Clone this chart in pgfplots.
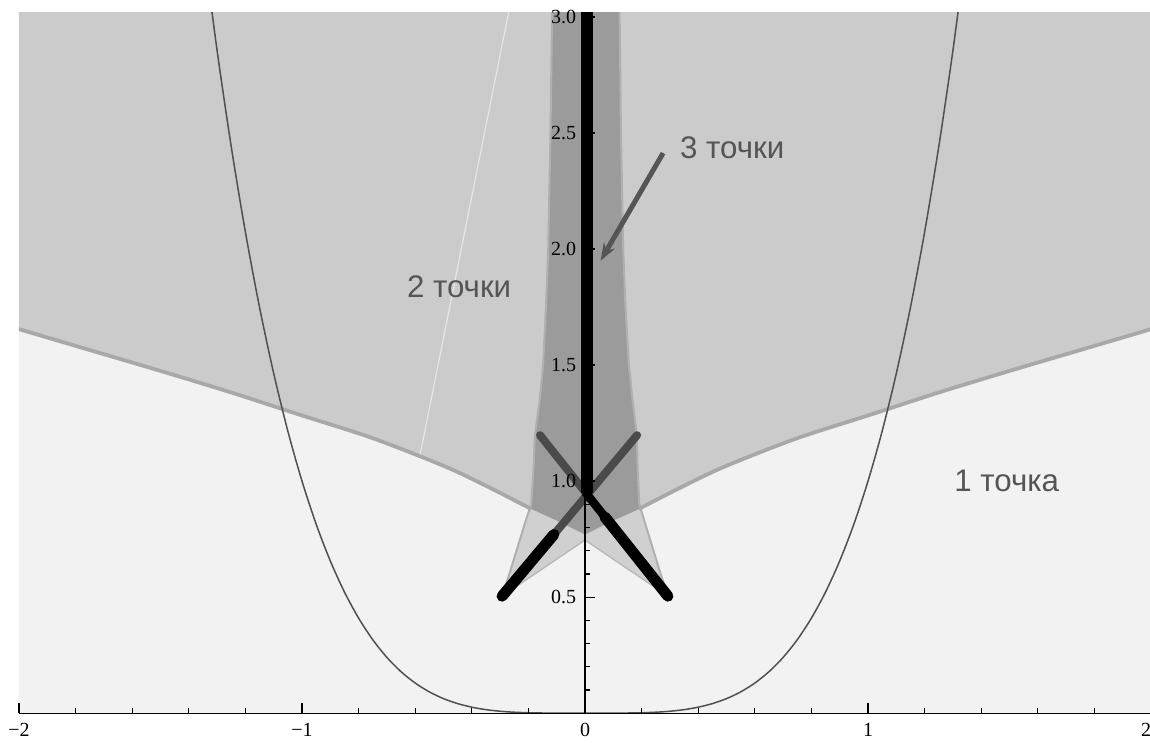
\documentclass[border=0pt]{standalone}
\usepackage{fontspec}
\setmainfont{Liberation Serif}
\newfontfamily\labelfont{Liberation Sans}
\usepackage{pgfplots}
\pgfplotsset{compat=1.18}
\usetikzlibrary{arrows.meta}

\definecolor{bgcol}{HTML}{F2F2F2}
\definecolor{twocol}{HTML}{CBCBCB}
\definecolor{threecol}{HTML}{9B9B9B}
\definecolor{tentcol}{HTML}{D0D0D0}
\definecolor{edgecol}{HTML}{B0B0B0}
\definecolor{bndcol}{HTML}{A8A8A8}
\definecolor{curvecol}{HTML}{505050}
\definecolor{strokecol}{HTML}{4A4A4A}
\definecolor{textcol}{HTML}{555555}

\begin{document}
\begin{tikzpicture}
\begin{axis}[
  x=113.2pt, y=92.8pt,
  xmin=-2, xmax=2, ymin=0, ymax=3.02,
  axis lines=middle,
  axis line style={-, line width=0.5pt, black},
  axis on top,
  axis background/.style={fill=bgcol},
  xtick={-2,-1,0,1,2},
  xticklabels={−2,−1,0,1,\makebox[0pt][r]{2}},
  ytick={0,0.5,1,1.5,2,2.5,3},
  yticklabels={,0.5,1.0,1.5,2.0,2.5,3.0},
  minor xtick={-1.8,-1.6,-1.4,-1.2,-0.8,-0.6,-0.4,-0.2,0.2,0.4,0.6,0.8,1.2,1.4,1.6,1.8},
  minor ytick={0.1,0.2,0.3,0.4,0.6,0.7,0.8,0.9,1.1,1.2,1.3,1.4,1.6,1.7,1.8,1.9,2.1,2.2,2.3,2.4,2.6,2.7,2.8,2.9},
  hide obscured x ticks=false, hide obscured y ticks=false,
  tick align=inside,
  major tick length=4pt, minor tick length=2pt,
  tick style={black, line width=0.5pt},
  tick label style={font=\fontsize{8}{9}\selectfont, black},
  xticklabel style={yshift=-0.6pt},
]
% region with two points: above the boundary curve
\addplot[draw=none, fill=twocol] coordinates {
  (-2,3.1) (-2,1.655) (-1.75,1.565) (-1.5,1.475) (-1.25,1.382) (-1.0,1.283)
  (-0.75,1.185) (-0.5,1.066) (-0.35,0.980) (-0.19,0.880) (-0.1,0.830) (0,0.770)
  (0.1,0.830) (0.19,0.880) (0.35,0.980) (0.5,1.066) (0.75,1.185) (1.0,1.283)
  (1.25,1.382) (1.5,1.475) (1.75,1.565) (2,1.655) (2,3.1)} -- cycle;
% faint light seam
\addplot[white, opacity=0.5, line width=0.5pt] coordinates {(-0.583,1.112) (-0.265,3.05)};
% tent
\addplot[draw=none, fill=tentcol] coordinates {
  (-0.293,0.504) (-0.262,0.62) (-0.237,0.72) (-0.212,0.82) (-0.190,0.90)
  (-0.182,1.05) (-0.177,1.20) (-0.160,1.35) (-0.148,1.50) (-0.138,1.75)
  (-0.130,2.00) (-0.122,2.50) (-0.116,3.05) (0.122,3.05) (0.127,2.50)
  (0.135,2.00) (0.143,1.75) (0.155,1.50) (0.168,1.35) (0.183,1.20)
  (0.186,1.05) (0.192,0.90) (0.212,0.82) (0.237,0.72) (0.262,0.62)
  (0.293,0.504) (0,0.746)} -- cycle;
% region with three points
\addplot[draw=none, fill=threecol] coordinates {
  (-0.190,0.880) (-0.190,0.90) (-0.182,1.05) (-0.177,1.20) (-0.160,1.35)
  (-0.148,1.50) (-0.138,1.75) (-0.130,2.00) (-0.122,2.50) (-0.116,3.05)
  (0.122,3.05) (0.127,2.50) (0.135,2.00) (0.143,1.75) (0.155,1.50)
  (0.168,1.35) (0.183,1.20) (0.186,1.05) (0.192,0.90) (0.192,0.880)
  (0.1,0.830) (0,0.770) (-0.1,0.830)} -- cycle;
% tent edges
\addplot[edgecol, line width=0.8pt] coordinates {
  (-0.293,0.504) (-0.262,0.62) (-0.237,0.72) (-0.212,0.82) (-0.190,0.90)
  (-0.182,1.05) (-0.177,1.20) (-0.160,1.35) (-0.148,1.50) (-0.138,1.75)
  (-0.130,2.00) (-0.122,2.50) (-0.116,3.05)};
\addplot[edgecol, line width=0.8pt] coordinates {
  (0.293,0.504) (0.262,0.62) (0.237,0.72) (0.212,0.82) (0.192,0.90)
  (0.186,1.05) (0.183,1.20) (0.168,1.35) (0.155,1.50) (0.143,1.75)
  (0.135,2.00) (0.127,2.50) (0.122,3.05)};
\addplot[edgecol!80!tentcol, line width=0.5pt] coordinates {(-0.293,0.504) (0,0.746) (0.293,0.504)};
% boundary curve
\addplot[bndcol, line width=1.5pt, smooth] coordinates {
  (-2,1.655) (-1.75,1.565) (-1.5,1.475) (-1.25,1.382) (-1.0,1.283)
  (-0.75,1.185) (-0.5,1.066) (-0.35,0.980) (-0.19,0.880)};
\addplot[bndcol, line width=1.5pt, smooth] coordinates {
  (0.19,0.880) (0.35,0.980) (0.5,1.066) (0.75,1.185) (1.0,1.283)
  (1.25,1.382) (1.5,1.475) (1.75,1.565) (2,1.655)};
% quartic-like thin curve
\addplot[curvecol, line width=0.6pt, smooth] coordinates {
  (-1.35,3.3215) (-1.30,2.8561) (-1.25,2.4414) (-1.20,2.0736) (-1.15,1.7490)
  (-1.10,1.4641) (-1.05,1.2155) (-1.00,1.0000) (-0.95,0.8145) (-0.90,0.6561)
  (-0.85,0.5220) (-0.80,0.4096) (-0.75,0.3164) (-0.70,0.2401) (-0.65,0.1785)
  (-0.60,0.1296) (-0.55,0.0915) (-0.50,0.0625) (-0.45,0.0410) (-0.40,0.0256)
  (-0.35,0.0150) (-0.30,0.0081) (-0.25,0.0039) (-0.20,0.0016) (-0.15,0.0005)
  (-0.10,0.0001) (0,0) (0.10,0.0001) (0.15,0.0005) (0.20,0.0016) (0.25,0.0039)
  (0.30,0.0081) (0.35,0.0150) (0.40,0.0256) (0.45,0.0410) (0.50,0.0625)
  (0.55,0.0915) (0.60,0.1296) (0.65,0.1785) (0.70,0.2401) (0.75,0.3164)
  (0.80,0.4096) (0.85,0.5220) (0.90,0.6561) (0.95,0.8145) (1.00,1.0000)
  (1.05,1.2155) (1.10,1.4641) (1.15,1.7490) (1.20,2.0736) (1.25,2.4414)
  (1.30,2.8561) (1.35,3.3215)};
% crossing strokes and the vertical bar
\addplot[strokecol, line width=3.2pt, line cap=round] coordinates {(-0.11,0.770) (0.184,1.198)};
\addplot[black, line width=4.4pt, line cap=round] coordinates {(-0.293,0.504) (-0.11,0.770)};
\addplot[strokecol, line width=3.2pt, line cap=round] coordinates {(-0.159,1.198) (0.0,0.954)};
\addplot[black, line width=3.4pt] coordinates {(0.0,0.954) (0.07,0.846)};
\addplot[black, line width=4.4pt, line cap=round] coordinates {(0.07,0.846) (0.293,0.504)};
\addplot[black, line width=4.8pt] coordinates {(0.006,0.95) (0.006,3.1)};
% annotation arrow and labels
\addplot[textcol, line width=2pt, -{Stealth[length=7pt,width=5pt]}] coordinates {(0.276,2.414) (0.055,1.95)};
\node[text=textcol, font=\labelfont\fontsize{12.5}{14}\selectfont] at (axis cs:-0.445,1.84) {2 точки};
\node[text=textcol, font=\labelfont\fontsize{12.5}{14}\selectfont, anchor=west] at (axis cs:0.305,2.435) {3 точки};
\node[text=textcol, font=\labelfont\fontsize{12.5}{14}\selectfont] at (axis cs:1.49,1.0) {1 точка};
\coordinate (bl) at (axis cs:-2,0);
\coordinate (tr) at (axis cs:2,3.02);
\end{axis}
\pgfresetboundingbox
\path[use as bounding box] ([xshift=-7.6pt,yshift=-11.9pt]bl) rectangle ([xshift=-0.4pt,yshift=5pt]tr);
\end{tikzpicture}
\end{document}
